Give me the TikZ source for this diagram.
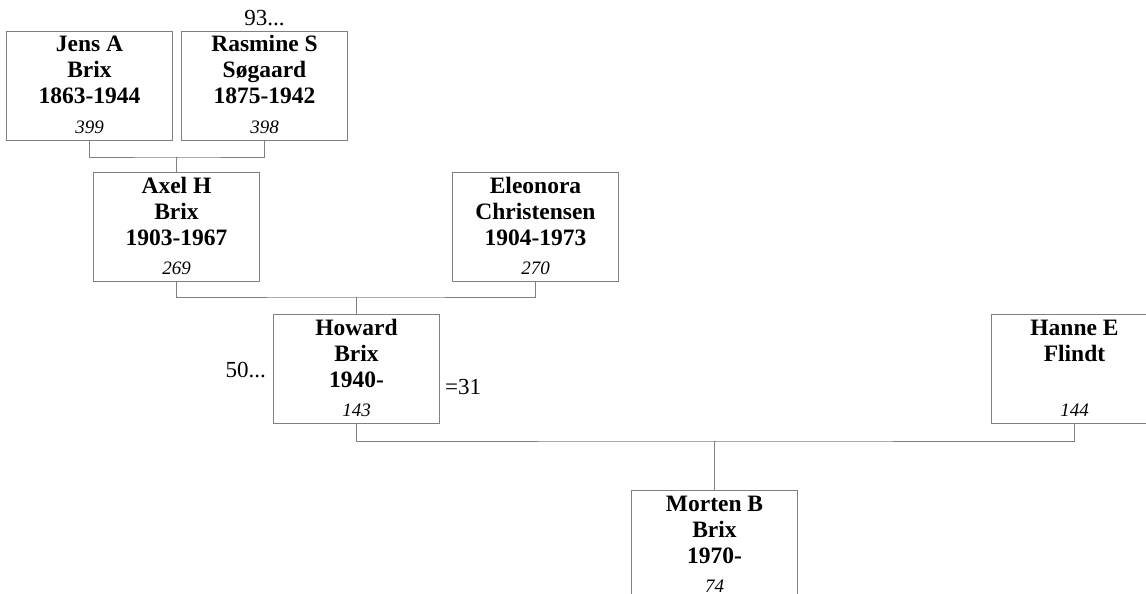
\documentclass[tikz,border=0pt]{standalone}
\usepackage{fontspec}
\setmainfont{Liberation Serif}
\usetikzlibrary{calc}
\definecolor{framegray}{HTML}{808080}
\tikzset{
  person/.style={draw=framegray, line width=1pt, minimum width=166pt, minimum height=109pt, inner sep=0pt, anchor=north west},
  names/.style={inner sep=0pt, anchor=base, font=\fontsize{23.5}{26}\selectfont\bfseries},
  refno/.style={inner sep=0pt, anchor=base, font=\fontsize{19}{22}\selectfont\itshape},
  note/.style={inner sep=0pt, font=\fontsize{23}{26}\selectfont},
  link/.style={draw=framegray, line width=1pt},
}
% #1 node name, #2 top left corner, #3 name lines, #4 number
\NewDocumentCommand{\person}{mmmm}{%
\node[person] (#1) at (#2) {};
\node[names] (#1n) at ([yshift=-21pt]#1.north) {\begin{tabular}[t]{@{}c@{}}#3\end{tabular}};
\node[refno] (#1r) at ([yshift=8pt]#1.south) {#4};
}

\begin{document}
\begin{tikzpicture}[x=1pt, y=-1pt]
    \useasboundingbox (0,0) rectangle (1146,594);
    \clip (0,0) rectangle (1146,594);

    \person{jens}{6,31}{Jens A\\Brix\\1863-1944}{399}
    \person{rasmine}{181,31}{Rasmine S\\Søgaard\\1875-1942}{398}
    \person{axel}{93,172}{Axel H\\Brix\\1903-1967}{269}
    \person{eleonora}{452,172}{Eleonora\\Christensen\\1904-1973}{270}
    \person{howard}{273,314}{Howard\\Brix\\1940-}{143}
    \person{hanne}{991,314}{Hanne E\\Flindt}{144}
    \person{morten}{631,490}{Morten B\\Brix\\1970-}{74}

    % Notes beside the boxes.
    \node[note, anchor=base] (rasminemore) at ([yshift=5pt]rasmine.north) {93...};
    \node[note, anchor=base east] (howardmore) at ($(howard.north west)+(-7,63)$) {50...};
    \node[note, anchor=base west] (howardmarried) at ($(howard.north east)+(5,80)$) {=31};

    % Parents to child.
    \coordinate (axelbus) at ($(jens.south)!0.5!(rasmine.south)+(0,16)$);
    \draw[link] (jens.south) |- (axelbus) -| (rasmine.south);
    \draw[link] (axel.north) |- (axelbus);

    \coordinate (howardbus) at ($(axel.south)!0.5!(eleonora.south)+(0,15)$);
    \draw[link] (axel.south) |- (howardbus) -| (eleonora.south);
    \draw[link] (howard.north) |- (howardbus);

    \coordinate (mortenbus) at ($(howard.south)!0.5!(hanne.south)+(0,17)$);
    \draw[link] (howard.south) |- (mortenbus) -| (hanne.south);
    \draw[link] (morten.north) |- (mortenbus);
\end{tikzpicture}
\end{document}
